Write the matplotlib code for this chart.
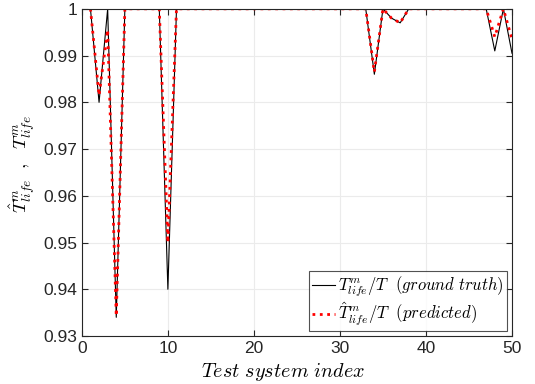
import numpy as np
import matplotlib
matplotlib.use('Agg')
import matplotlib.pyplot as plt

plt.rcParams['mathtext.fontset'] = 'cm'
plt.rcParams['font.family'] = ['Liberation Sans', 'DejaVu Sans']

# test system index 1..50
idx = np.arange(1, 51)

truth = [1.0] * 50
pred = [1.0] * 50
# points where the lifetime ratio drops below 1 (index -> value)
truth_dips = {2: 0.980, 4: 0.9340, 10: 0.940, 34: 0.9860, 36: 0.998, 37: 0.997,
              48: 0.991, 50: 0.9905}
pred_dips = {2: 0.9815, 3: 0.9955, 4: 0.9343, 10: 0.950, 34: 0.9865, 36: 0.998,
             37: 0.997, 48: 0.9940, 50: 0.9935}
for k, v in truth_dips.items():
    truth[k - 1] = v
for k, v in pred_dips.items():
    pred[k - 1] = v

ytick_vals = [0.93, 0.94, 0.95, 0.96, 0.97, 0.98, 0.99, 1.0]
ytick_labels = ['0.93', '0.94', '0.95', '0.96', '0.97', '0.98', '0.99', '1']
xtick_vals = [0, 10, 20, 30, 40, 50]

fig = plt.figure(figsize=(5.35, 3.84), dpi=100)
ax = fig.add_axes([0.153, 0.125, 0.804, 0.852])

ax.plot(idx, truth, color='black', lw=0.8,
        label=r'$T^{m}_{life}/T\ \ (ground\ truth)$')
ax.plot(idx, pred, color='red', lw=2, ls=':',
        label=r'$\hat{T}^{m}_{life}/T\ \ (predicted)$')

ax.set_xlim(0, 50)
ax.set_ylim(0.93, 1.0)
ax.set_xticks(xtick_vals)
ax.set_yticks(ytick_vals)
ax.set_yticklabels(ytick_labels)
ax.grid(True, color='#ebebeb', lw=0.8)
ax.set_axisbelow(True)
ax.tick_params(direction='in', top=True, right=True, labelsize=12.5,
               colors='#262626', length=4)
for s in ax.spines.values():
    s.set_color('#262626')
    s.set_linewidth(0.8)

ax.set_xlabel(r'$Test\ system\ index$', fontsize=14.5)
ax.xaxis.set_label_coords(0.468, -0.075)
ax.set_ylabel(r'$\hat{T}^{m}_{life}\ \ ,\ \ T^{m}_{life}$', fontsize=13.5)
ax.yaxis.set_label_coords(-0.105, 0.525)

leg = ax.legend(loc='lower right', fontsize=12, frameon=True, fancybox=False,
                edgecolor='#262626', borderpad=0.2, handlelength=1.4,
                handletextpad=0.15, labelspacing=0.1, borderaxespad=0.3)
leg.get_frame().set_linewidth(0.8)

fig.savefig('out.png', dpi=100)
